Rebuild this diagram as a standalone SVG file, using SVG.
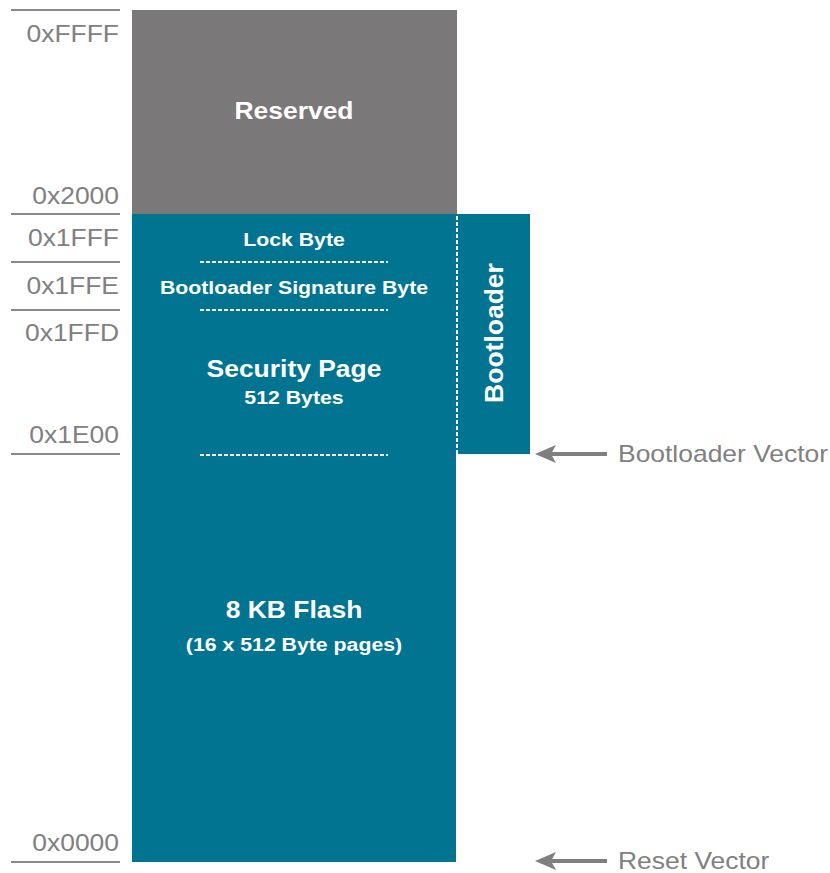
<svg xmlns="http://www.w3.org/2000/svg" width="830" height="873" viewBox="0 0 830 873">
<defs>
<style>
.addr{font-family:"Liberation Sans",Arial,sans-serif;font-size:23px;fill:#808080;text-anchor:end}
.tick{stroke:#8a8a8a;stroke-width:2}
.wt{font-family:"Liberation Sans",Arial,sans-serif;font-weight:bold;fill:#ffffff;text-anchor:middle}
.big{font-size:23px}
.small{font-size:18.5px}
.dash{stroke:#ffffff;stroke-width:2;stroke-dasharray:4,2}
.vec{font-family:"Liberation Sans",Arial,sans-serif;font-size:23px;fill:#808080}
.arr{stroke:#7f7f7f;stroke-width:4}
.head{fill:#7f7f7f}
</style>
</defs>
<rect width="830" height="873" fill="#ffffff"/>
<g id="address-scale">
<line class="tick" x1="11" y1="10" x2="120" y2="10"/>
<line class="tick" x1="11" y1="214" x2="120" y2="214"/>
<line class="tick" x1="11" y1="262" x2="120" y2="262"/>
<line class="tick" x1="11" y1="310" x2="120" y2="310"/>
<line class="tick" x1="11" y1="454" x2="120" y2="454"/>
<line class="tick" x1="11" y1="862" x2="120" y2="862"/>
<text class="addr" transform="translate(119,42) scale(1.15,1)">0xFFFF</text>
<text class="addr" transform="translate(119,204) scale(1.15,1)">0x2000</text>
<text class="addr" transform="translate(119,246) scale(1.15,1)">0x1FFF</text>
<text class="addr" transform="translate(119,294) scale(1.15,1)">0x1FFE</text>
<text class="addr" transform="translate(119,341) scale(1.15,1)">0x1FFD</text>
<text class="addr" transform="translate(119,443) scale(1.15,1)">0x1E00</text>
<text class="addr" transform="translate(119,851) scale(1.15,1)">0x0000</text>
</g>
<g id="reserved">
<rect x="132" y="10" width="325" height="204" fill="#7a7879"/>
<text class="wt big" transform="translate(294,119) scale(1.15,1)">Reserved</text>
</g>
<g id="flash">
<rect x="132" y="214" width="324" height="648" fill="#007491"/>
<text class="wt big" transform="translate(294,618) scale(1.15,1)">8 KB Flash</text>
<text class="wt small" transform="translate(294,651) scale(1.15,1)">(16 x 512 Byte pages)</text>
</g>
<g id="lock-byte">
<text class="wt small" transform="translate(294,246) scale(1.15,1)">Lock Byte</text>
</g>
<g id="signature-byte">
<text class="wt small" transform="translate(294,294) scale(1.15,1)">Bootloader Signature Byte</text>
</g>
<g id="security-page">
<text class="wt big" transform="translate(294,377) scale(1.15,1)">Security Page</text>
<text class="wt small" transform="translate(294,404) scale(1.15,1)">512 Bytes</text>
</g>
<g id="bootloader">
<rect x="456" y="214" width="74" height="240" fill="#007491"/>
<line class="dash" x1="457" y1="216" x2="457" y2="454" stroke-dasharray="3,2"/>
<text class="wt" font-size="26.5" transform="translate(502.5,333) rotate(-90)">Bootloader</text>
</g>
<g id="connectors">
<line class="dash" x1="200" y1="262" x2="388" y2="262"/>
<line class="dash" x1="200" y1="310" x2="388" y2="310"/>
<line class="dash" x1="200" y1="455" x2="388" y2="455"/>
<line class="arr" x1="607" y1="454" x2="550" y2="454"/>
<path class="head" d="M535,454 L556,445 L551,454 L556,463 Z"/>
<line class="arr" x1="607" y1="861" x2="550" y2="861"/>
<path class="head" d="M535,861 L556,852 L551,861 L556,870 Z"/>
</g>
<g id="vector-labels">
<text class="vec" transform="translate(618,462) scale(1.15,1)">Bootloader Vector</text>
<text class="vec" transform="translate(618,869) scale(1.15,1)">Reset Vector</text>
</g>
</svg>
